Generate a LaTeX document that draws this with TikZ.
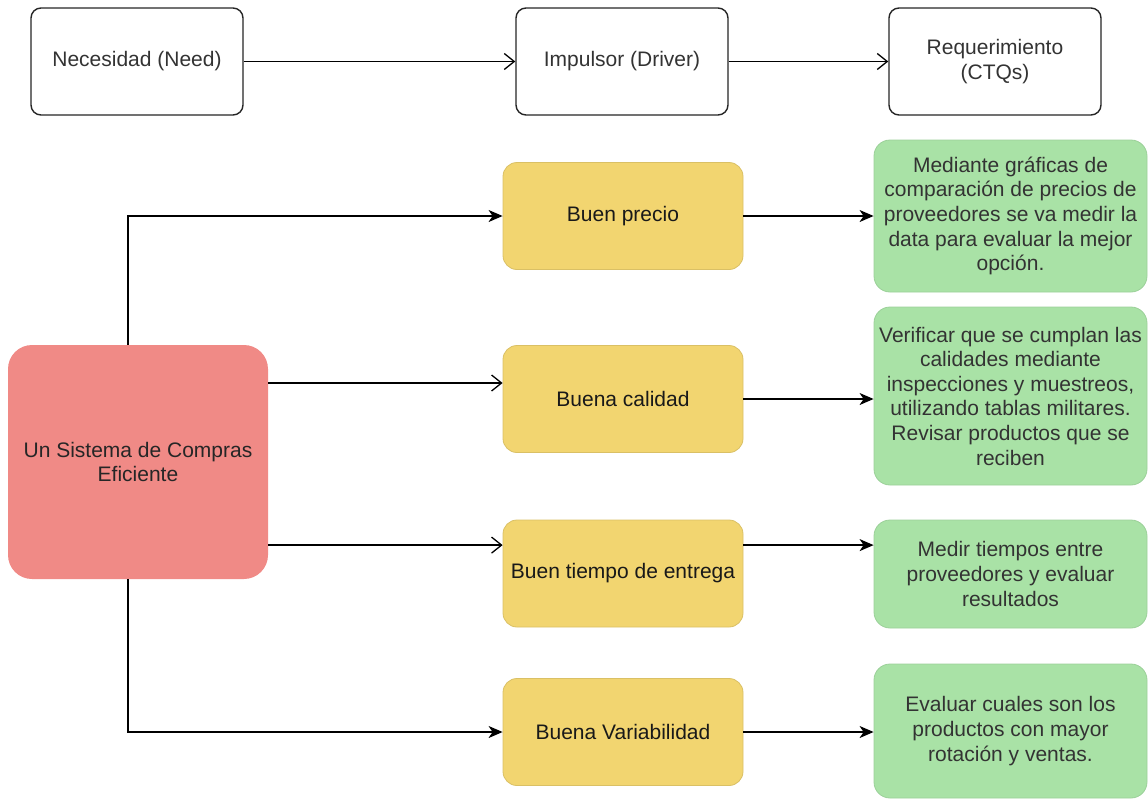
\documentclass[tikz,border=0pt]{standalone}
\usepackage{fontspec}
\setmainfont{Liberation Sans}
\usetikzlibrary{arrows.meta, positioning, calc}

\definecolor{needred}{HTML}{F08A86}
\definecolor{driveryellow}{HTML}{F2D570}
\definecolor{ctqgreen}{HTML}{A9E2A6}

\begin{document}
\begin{tikzpicture}[
    x=0.5pt, y=-0.5pt,
    font=\fontsize{10.5}{12.3}\selectfont,
    openarr/.style={-{Straight Barb[length=5pt, width=8pt]}, line width=0.65pt},
    fullarr/.style={-{Stealth[length=7pt, width=6pt, inset=2pt]}, line width=0.65pt},
    header/.style={draw=black!85, line width=0.7pt, rounded corners=5pt,
                   fill=white, text=black!80, align=center,
                   minimum width=106pt, minimum height=53.5pt},
    rootbox/.style={fill=needred, rounded corners=12pt, align=center,
                    text=black!85, minimum width=130pt, minimum height=117pt},
    driverbox/.style={draw=driveryellow!90!black, line width=0.4pt, fill=driveryellow,
                      rounded corners=7pt, align=center, text=black!90,
                      minimum width=120pt, minimum height=53.5pt},
    ctqbox/.style={draw=ctqgreen!92!black, line width=0.4pt, fill=ctqgreen,
                   rounded corners=8pt, align=center, text=black!80,
                   minimum width=136.5pt, inner sep=1pt}
  ]
  \useasboundingbox (0,0) rectangle (1148,799);

  % encabezados
  \node[header] (need) at (137,61.5) {Necesidad (Need)};
  \node[header] (drv) at (622,61.5) {Impulsor (Driver)};
  \node[header] (ctq) at (995,61.5) {Requerimiento\\(CTQs)};
  \draw[openarr] (need) -- (drv);
  \draw[openarr] (drv) -- (ctq);

  % necesidad e impulsores
  \node[rootbox] (root) at (138,462) {Un Sistema de Compras\\Eficiente};
  \node[driverbox] (precio) at (623,216) {Buen precio};
  \node[driverbox] (calidad) at (623,399) {Buena calidad};
  \node[driverbox] (tiempo) at (623,573.5) {Buen tiempo de entrega};
  \node[driverbox] (variab) at (623,732) {Buena Variabilidad};

  % requerimientos
  \node[ctqbox, minimum height=76pt] (g1) at (1010.5,216)
    {Mediante gr\'aficas de\\comparaci\'on de precios de\\proveedores se va medir la\\data para evaluar la mejor\\opci\'on.};
  \node[ctqbox, minimum height=89pt] (g2) at (1010.5,396)
    {Verificar que se cumplan las\\calidades mediante\\inspecciones y muestreos,\\utilizando tablas militares.\\Revisar productos que se\\reciben};
  \node[ctqbox, minimum height=54pt] (g3) at (1010.5,574)
    {Medir tiempos entre\\proveedores y evaluar\\resultados};
  \node[ctqbox, minimum height=67pt] (g4) at (1010.5,731)
    {Evaluar cuales son los\\productos con mayor\\rotaci\'on y ventas.};

  \coordinate (cin) at ([yshift=8pt]calidad.west);
  \coordinate (tin) at ([yshift=14.2pt]tiempo.west);

  \draw[fullarr] ([xshift=-5pt]root.north) |- (precio.west);
  \draw[openarr] (cin -| root.east) -- (cin);
  \draw[openarr] (tin -| root.east) -- (tin);
  \draw[fullarr] ([xshift=-5pt]root.south) |- (variab.west);

  \draw[fullarr] (precio.east) -- (precio.east -| g1.west);
  \draw[fullarr] (calidad.east) -- (calidad.east -| g2.west);
  \draw[fullarr] (tin -| tiempo.east) -- (tin -| g3.west);
  \draw[fullarr] (variab.east) -- (variab.east -| g4.west);
\end{tikzpicture}
\end{document}
